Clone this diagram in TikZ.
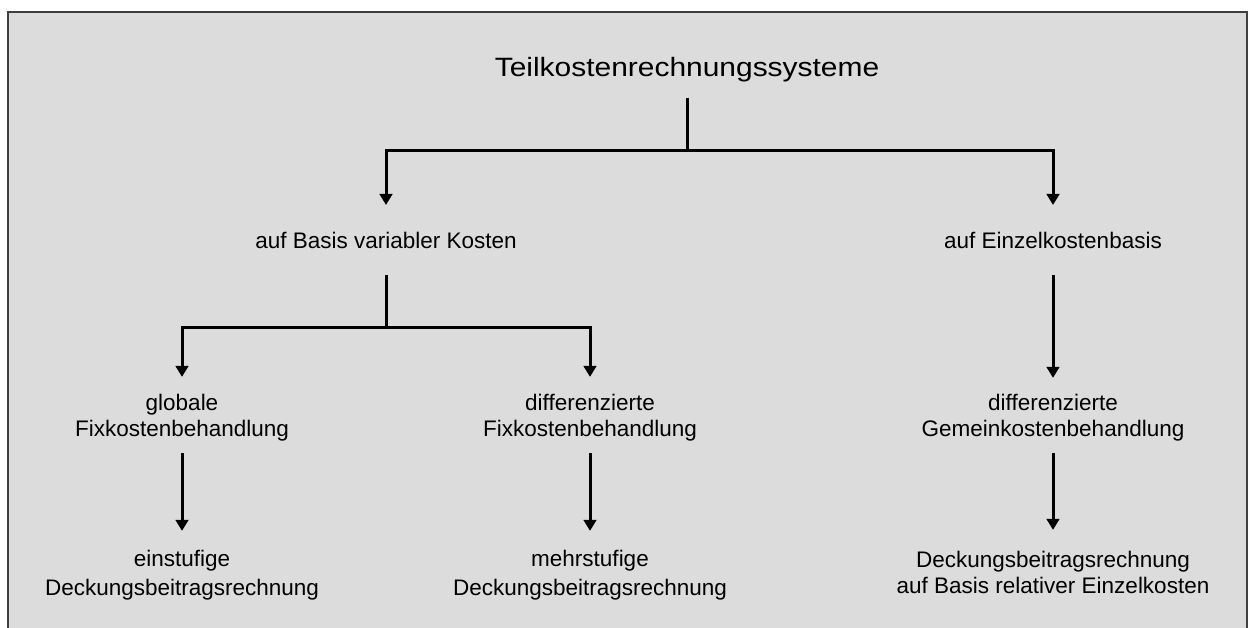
\documentclass[tikz,border=0pt]{standalone}
\usepackage{fontspec}
\setmainfont{Liberation Sans}
\usetikzlibrary{arrows.meta}
\definecolor{bgray}{HTML}{DCDCDC}
\definecolor{framec}{HTML}{404040}
\begin{document}
\begin{tikzpicture}[x=1pt,y=-1pt,
  lbl/.style={inner sep=0pt, font=\fontsize{22.5}{26}\selectfont, align=center, anchor=base},
  conn/.style={line width=3pt, draw=black},
  arr/.style={conn, -{Triangle[width=12.5pt,length=11pt]}},
]
\useasboundingbox (0,0) rectangle (1255,628);
% panel
\fill[bgray] (8,12) rectangle (1247,628);
\draw[framec, line width=2pt] (8,628) -- (8,12) -- (1247,12) -- (1247,628);

% labels
\node[lbl, font=\fontsize{26.5}{30}\selectfont] (top) at (687,77) {\scalebox{1.13}[1]{Teilkostenrechnungssysteme}};
\node[lbl] (var) at (386,249) {auf Basis variabler Kosten};
\node[lbl] (ein) at (1053,249) {auf Einzelkostenbasis};
\node[lbl] (glo) at (182,436) {globale\\Fixkostenbehandlung};
\node[lbl] (dif) at (590,436) {differenzierte\\Fixkostenbehandlung};
\node[lbl] (gem) at (1053,436) {differenzierte\\Gemeinkostenbehandlung};
\node[lbl] (one) at (182,595) {einstufige\\[3pt]Deckungsbeitragsrechnung};
\node[lbl] (mul) at (590,595) {mehrstufige\\[3pt]Deckungsbeitragsrechnung};
\node[lbl] (rel) at (1053,593) {Deckungsbeitragsrechnung\\auf Basis relativer Einzelkosten};

% junctions
\coordinate (j1) at (687,151);
\coordinate (j2) at (386,327);

% connectors
\draw[conn, shorten <=15pt] (top.south) -- (j1);
\draw[arr, shorten >=27.5pt] (j1) -| (var.north);
\draw[arr, shorten >=27.5pt] (j1) -| (ein.north);
\draw[conn, shorten <=26pt] (var.south) -- (j2);
\draw[arr, shorten >=16.6pt] (j2) -| (glo.north);
\draw[arr, shorten >=16.6pt] (j2) -| (dif.north);
\draw[arr, shorten <=26pt, shorten >=15.6pt] (ein.south) -- (gem.north);
\draw[arr, shorten <=12pt, shorten >=18.6pt] (glo.south) -- (one.north);
\draw[arr, shorten <=12pt, shorten >=18.6pt] (dif.south) -- (mul.north);
\draw[arr, shorten <=12pt, shorten >=20.6pt] (gem.south) -- (rel.north);
\end{tikzpicture}
\end{document}
